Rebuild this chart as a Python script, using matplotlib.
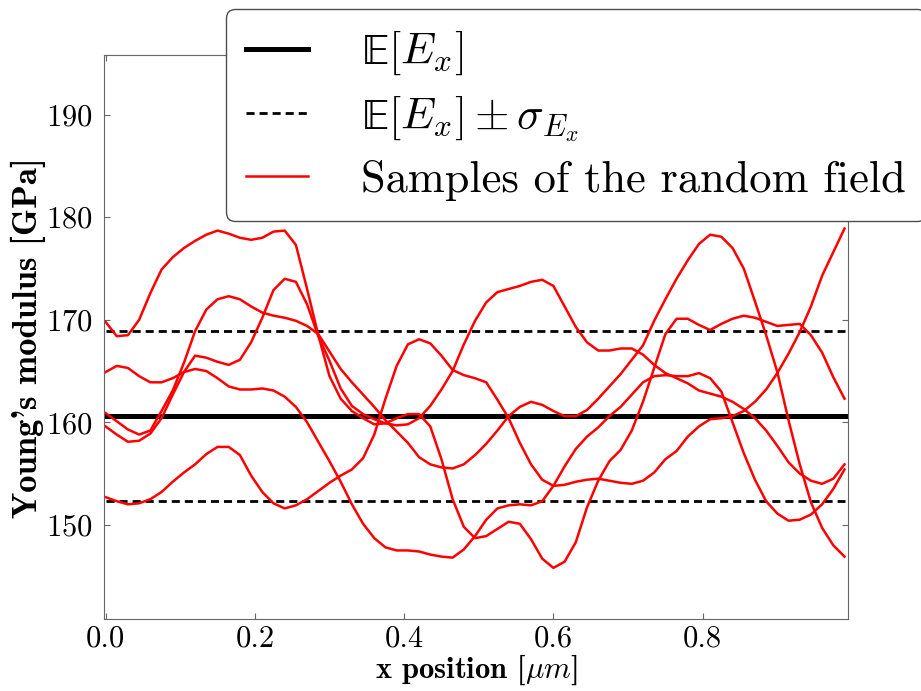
import numpy as np
import matplotlib
matplotlib.use('Agg')
import matplotlib.pyplot as plt

# posições ao longo da barra (um ponto a cada 0.015 um)
x_pos = np.round(np.arange(67) * 0.015, 3)

media = 160.6
desvio = 8.3

# amostras do campo aleatório
amostra_a = [169.8, 168.4, 168.5, 170.0, 172.6, 174.9, 176.1, 177.0, 177.7, 178.3,
             178.7, 178.4, 178.0, 177.8, 178.0, 178.6, 178.7, 177.3, 173.0, 168.5,
             164.5, 162.3, 161.1, 160.4, 159.8, 159.9, 160.4, 160.8, 160.8, 159.6,
             156.4, 152.5, 149.8, 148.7, 148.9, 149.6, 150.3, 150.1, 148.6, 146.7,
             145.8, 146.4, 148.3, 151.7, 154.3, 156.2, 157.3, 159.2, 162.0, 165.3,
             168.6, 170.1, 170.1, 169.5, 169.0, 169.6, 170.1, 170.4, 170.2, 169.8,
             169.4, 169.5, 169.6, 168.5, 166.8, 164.4, 162.3]
amostra_b = [164.9, 165.5, 165.3, 164.5, 163.9, 163.9, 164.3, 164.9, 165.2, 165.0,
             164.3, 163.5, 163.2, 163.2, 163.3, 163.1, 162.5, 161.5, 160.0, 158.1,
             156.2, 154.2, 152.0, 150.1, 148.7, 147.8, 147.5, 147.5, 147.4, 147.1,
             146.9, 146.8, 147.6, 148.9, 150.5, 151.6, 151.9, 152.0, 151.9, 152.3,
             153.8, 155.7, 157.4, 158.6, 159.5, 160.6, 161.5, 162.7, 163.9, 164.5,
             164.6, 164.5, 164.5, 164.8, 164.3, 163.0, 160.0, 157.0, 154.4, 152.3,
             151.1, 150.4, 150.5, 151.0, 152.0, 153.5, 155.4]
amostra_c = [160.9, 160.1, 159.3, 158.8, 159.2, 161.1, 163.1, 165.8, 168.9, 171.0,
             172.0, 172.3, 172.0, 171.3, 170.7, 170.4, 170.2, 169.9, 169.4, 168.6,
             166.9, 165.2, 163.9, 162.7, 161.5, 160.2, 159.1, 158.0, 156.6, 155.9,
             155.6, 155.5, 155.9, 156.8, 157.9, 159.2, 160.6, 161.5, 162.0, 161.7,
             161.1, 160.6, 160.6, 161.2, 162.3, 163.5, 164.7, 166.1, 167.5, 169.9,
             172.0, 174.0, 175.8, 177.4, 178.3, 178.1, 177.0, 175.0, 171.8, 168.5,
             164.9, 160.2, 155.9, 152.2, 149.7, 148.0, 146.9]
amostra_d = [159.6, 158.8, 158.1, 158.2, 158.9, 160.4, 162.7, 164.9, 166.5, 166.3,
             165.9, 165.6, 166.1, 167.8, 170.2, 172.9, 174.0, 173.7, 171.5, 168.4,
             166.0, 163.3, 161.6, 160.8, 160.3, 159.9, 159.7, 159.8, 160.4, 161.6,
             163.2, 165.0, 167.6, 169.9, 171.7, 172.7, 173.0, 173.3, 173.7, 173.9,
             173.3, 171.3, 169.3, 167.8, 167.0, 167.0, 167.2, 167.2, 166.6, 165.6,
             164.8, 164.3, 163.8, 163.1, 162.8, 162.5, 162.0, 161.3, 160.4, 159.2,
             157.7, 156.1, 155.0, 154.3, 154.0, 154.5, 155.9]
amostra_e = [152.7, 152.3, 152.0, 152.1, 152.5, 153.2, 154.2, 155.1, 155.9, 156.9,
             157.6, 157.6, 156.8, 154.8, 153.2, 152.1, 151.6, 151.9, 152.5, 153.3,
             154.1, 154.8, 155.4, 156.5, 158.8, 162.3, 165.5, 167.6, 168.1, 167.7,
             166.5, 165.1, 164.6, 164.3, 163.9, 162.2, 160.4, 158.0, 155.9, 154.4,
             153.8, 153.9, 154.2, 154.4, 154.5, 154.3, 154.1, 154.0, 154.3, 155.1,
             156.4, 157.2, 158.6, 159.6, 160.3, 160.4, 160.6, 161.1, 162.0, 163.2,
             164.8, 166.7, 168.8, 171.3, 174.3, 176.6, 178.9]
amostras = [amostra_a, amostra_b, amostra_c, amostra_d, amostra_e]

x_ticks = [0.0, 0.2, 0.4, 0.6, 0.8]
y_ticks = [150, 160, 170, 180, 190]

plt.rcParams['font.family'] = ['cmr10', 'DejaVu Serif']
plt.rcParams['mathtext.fontset'] = 'cm'
plt.rcParams['axes.unicode_minus'] = False
plt.rcParams['axes.formatter.use_mathtext'] = True

fig = plt.figure(figsize=(9.21, 6.91), dpi=100)
ax = fig.add_axes([0.113, 0.104, 0.808, 0.816])

ax.plot([x_pos[0], x_pos[-1]], [media, media], color='black', lw=3.6,
        label=r'$\mathrm{\mathbb{E}}[E_x]$')
ax.plot([x_pos[0], x_pos[-1]], [media + desvio, media + desvio], color='black',
        lw=2, linestyle=(0, (2.9, 1.8)),
        label=r'$\mathrm{\mathbb{E}}[E_x] \pm \sigma_{E_x}$')
ax.plot([x_pos[0], x_pos[-1]], [media - desvio, media - desvio], color='black',
        lw=2, linestyle=(0, (2.9, 1.8)))
for i, amostra in enumerate(amostras):
    ax.plot(x_pos, amostra, color='red', lw=1.8,
            label='Samples of the random field' if i == 0 else None)

# formatar o grafico
ax.set_xlim(-0.002, 0.995)
ax.set_ylim(140.8, 195.8)
ax.set_xticks(x_ticks)
ax.set_yticks(y_ticks)
ax.set_xticklabels(['0.0', '0.2', '0.4', '0.6', '0.8'])
ax.tick_params(direction='in', length=4, top=True, right=True, labelsize=22,
               color='0.4')
ax.tick_params(axis='y', pad=8)
ax.tick_params(axis='x', pad=4)
for s in ax.spines.values():
    s.set_color('0.4')

ax.set_ylabel("Young's modulus [GPa]", fontsize=25, family='cmb10', labelpad=0)
ax.set_xlabel(r'x position [$\mu m$]', fontsize=22, family='cmb10', labelpad=0)

leg = ax.legend(loc='upper left', bbox_to_anchor=(0.245, 0.987),
                bbox_transform=fig.transFigure, borderaxespad=0,
                fontsize=32, handlelength=1.4, handletextpad=1.2,
                borderpad=0.45, labelspacing=0.36, fancybox=True,
                framealpha=1, edgecolor='0.3')
leg.get_frame().set_linewidth(1.0)

fig.savefig('out.png', dpi=100)
